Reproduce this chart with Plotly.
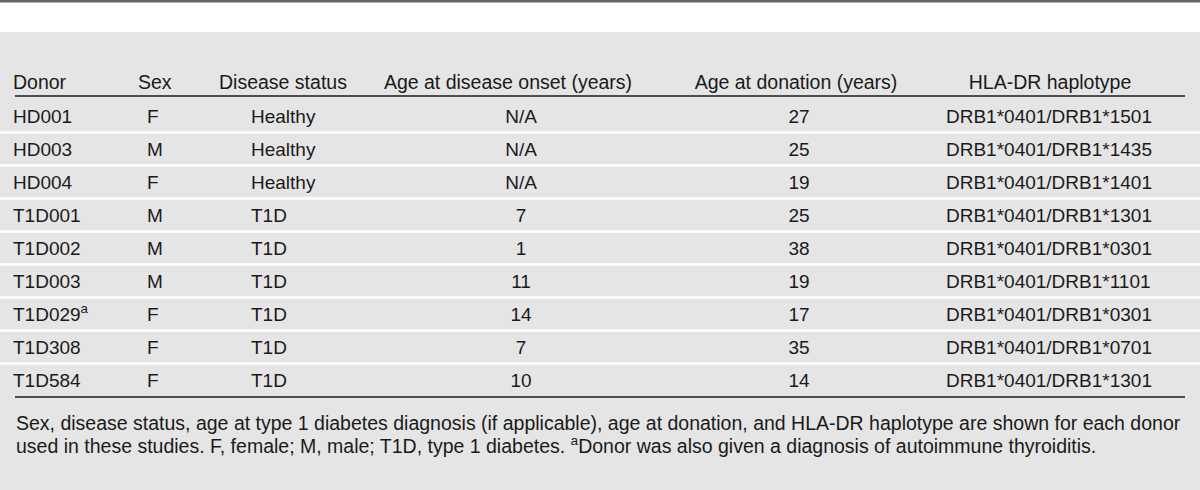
import plotly.graph_objects as go

# ---- data ----
headers = ["Donor", "Sex", "Disease status", "Age at disease onset (years)",
           "Age at donation (years)", "HLA-DR haplotype"]
donors = ["HD001", "HD003", "HD004", "T1D001", "T1D002", "T1D003",
          "T1D029<sup>a</sup>", "T1D308", "T1D584"]
sex = ["F", "M", "F", "M", "M", "M", "F", "F", "F"]
status = ["Healthy", "Healthy", "Healthy", "T1D", "T1D", "T1D", "T1D", "T1D", "T1D"]
onset = ["N/A", "N/A", "N/A", "7", "1", "11", "14", "7", "10"]
donation = [27, 25, 19, 25, 38, 19, 17, 35, 14]
hla = ["DRB1*0401/DRB1*1501", "DRB1*0401/DRB1*1435", "DRB1*0401/DRB1*1401",
       "DRB1*0401/DRB1*1301", "DRB1*0401/DRB1*0301", "DRB1*0401/DRB1*1101",
       "DRB1*0401/DRB1*0301", "DRB1*0401/DRB1*0701", "DRB1*0401/DRB1*1301"]
footnote = [
    "Sex, disease status, age at type 1 diabetes diagnosis (if applicable), age at donation, "
    "and HLA-DR haplotype are shown for each donor",
    "used in these studies. F, female; M, male; T1D, type 1 diabetes. "
    "<sup>a</sup>Donor was also given a diagnosis of autoimmune thyroiditis.",
]

# ---- layout constants ----
W, H = 1200, 490
FONT = "Liberation Sans, Arial, Helvetica, sans-serif"
FS_HEAD = 19.5
FS_BODY = 19
FS_NOTE = 19.5
TXT = "#1a1a1a"
BG = "#e5e5e5"
row0, rowh = 116, 33
text_dy = 2
header_y = 84
band_y = [row0 + rowh * i for i in range(len(donors))]
rows_y = [y + text_dy for y in band_y]

fig = go.Figure()

# column specs: (values, x, textposition)
cols = [
    (donors, 13, "middle right"),
    (sex, 147, "middle right"),
    (status, 251, "middle right"),
    (onset, 521, "middle center"),
    ([str(v) for v in donation], 799, "middle center"),
    (hla, 946, "middle right"),
]
for vals, x, pos in cols:
    fig.add_trace(go.Scatter(
        x=[x] * len(vals), y=rows_y, text=vals, mode="text",
        textposition=pos, textfont=dict(family=FONT, size=FS_BODY, color=TXT),
        hoverinfo="skip", showlegend=False))

header_x = [13, 138, 219, 508, 796, 1050]
header_pos = ["middle right", "middle right", "middle right",
              "middle center", "middle center", "middle center"]
fig.add_trace(go.Scatter(
    x=header_x, y=[header_y] * len(headers), text=headers, mode="text",
    textposition=header_pos, textfont=dict(family=FONT, size=FS_HEAD, color=TXT),
    hoverinfo="skip", showlegend=False))

# shapes
shapes = [
    dict(type="rect", x0=0, x1=W, y0=32, y1=H, fillcolor=BG, line_width=0, layer="below"),
    dict(type="rect", x0=0, x1=W, y0=0, y1=2.5, fillcolor="#656565", line_width=0, layer="below"),
    dict(type="line", x0=15, x1=1185, y0=96, y1=96, line=dict(color="#1a1a1a", width=1.5)),
    dict(type="line", x0=15, x1=1185, y0=397, y1=397, line=dict(color="#1a1a1a", width=1.5)),
]
for y in band_y[:-1]:
    yy = y + rowh / 2
    shapes.append(dict(type="line", x0=0, x1=W, y0=yy, y1=yy,
                       line=dict(color="white", width=2.5), layer="below"))

annotations = []
for i, line in enumerate(footnote):
    annotations.append(dict(x=14, y=423 + 22 * i, text=line, showarrow=False,
                            xanchor="left", yanchor="middle", xref="x", yref="y",
                            font=dict(family=FONT, size=FS_NOTE, color=TXT)))

fig.update_layout(
    width=W, height=H, margin=dict(l=0, r=0, t=0, b=0),
    paper_bgcolor="white", plot_bgcolor="white",
    xaxis=dict(range=[0, W], visible=False, fixedrange=True),
    yaxis=dict(range=[H, 0], visible=False, fixedrange=True),
    shapes=shapes, annotations=annotations,
)

fig.write_html("out.html", config={"displayModeBar": False},
               post_script="document.body.style.margin='0';document.body.style.overflow='hidden';")
